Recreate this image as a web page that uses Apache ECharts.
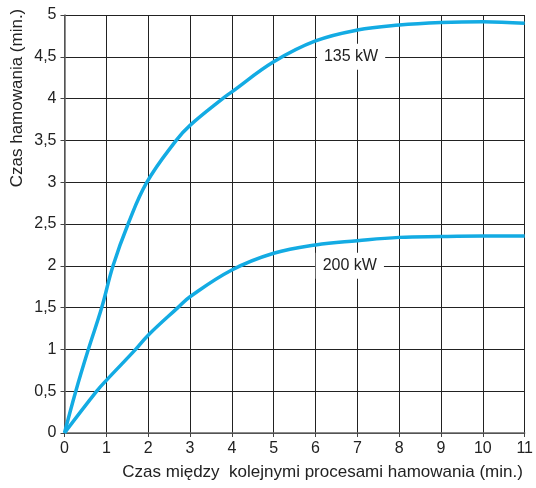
<!DOCTYPE html>
<html>
<head>
<meta charset="utf-8">
<script src="https://cdn.jsdelivr.net/npm/echarts@6/dist/echarts.min.js"></script>
<style>html,body{margin:0;padding:0;background:#fff}#c{width:536px;height:488px}</style>
</head>
<body>
<div id="c"></div>
<script>
var xTicks = [0,1,2,3,4,5,6,7,8,9,10,11];
var yTicks = ['0','0,5','1','1,5','2','2,5','3','3,5','4','4,5','5'];
var s135x = [0,0.27,0.57,0.89,1.16,1.52,1.97,2.67,3,3.78,4,5,6,7,8,9,10,11];
var s135y = [0,0.5,1,1.5,2,2.5,3,3.5,3.68,4,4.08,4.44,4.69,4.82,4.88,4.91,4.92,4.9];
var s200x = [0,0.77,1,1.7,2,2.71,3,4,5,6,7,8,9,10,11];
var s200y = [0,0.5,0.63,1,1.17,1.5,1.63,1.95,2.15,2.25,2.3,2.34,2.35,2.355,2.355];
var labels = ['135 kW','200 kW'];
var labelPos = [[6.85,4.5],[6.82,2]];
var xName = 'Czas między  kolejnymi procesami hamowania (min.)';
var yName = 'Czas hamowania (min.)';

function pairs(xs, ys){ return xs.map(function(x,i){return [x, ys[i]];}); }

var chart = echarts.init(document.getElementById('c'));
var font = 'Liberation Sans, Arial, sans-serif';
var lineStyle = {color:'#13abe3', width:3.5};
chart.setOption({
  animation:false,
  grid:{left:64.5, right:9.5, top:15, bottom:55},
  xAxis:{type:'value', min:0, max:11, interval:1,
    name:xName, nameLocation:'middle', nameGap:31,
    nameTextStyle:{fontSize:17, color:'#222', fontFamily:font, padding:[0,0,0,56]},
    axisLine:{show:true, lineStyle:{color:'#666', width:1.5}},
    axisTick:{show:true, length:4, lineStyle:{color:'#444'}},
    axisLabel:{fontSize:16, color:'#222', fontFamily:font, margin:8,
      formatter:function(v){return String(v);}},
    splitLine:{show:true, lineStyle:{color:'#222', width:1}}
  },
  yAxis:{type:'value', min:0, max:5, interval:0.5,
    axisLine:{show:true, lineStyle:{color:'#666', width:1.5}},
    axisTick:{show:true, length:4, lineStyle:{color:'#444'}},
    axisLabel:{fontSize:16, color:'#222', fontFamily:font, margin:8,
      formatter:function(v){return yTicks[Math.round(v*2)];}},
    splitLine:{show:true, lineStyle:{color:'#222', width:1}}
  },
  graphic:[{type:'text', x:17, y:98, rotation:Math.PI/2,
    style:{text:yName, font:'17px '+font, fill:'#222', align:'center', verticalAlign:'middle'}}],
  series:[
    {type:'line', data:pairs(s135x,s135y), smooth:0.4, symbol:'none', lineStyle:lineStyle},
    {type:'line', data:pairs(s200x,s200y), smooth:0.4, symbol:'none', lineStyle:lineStyle},
    {type:'scatter', symbolSize:0, z:5, itemStyle:{opacity:1},
      data:labelPos.map(function(p,i){return {value:p, name:labels[i]};}),
      label:{show:true, position:'inside', formatter:'{b}', fontSize:16, color:'#222', opacity:1, fontFamily:font,
        backgroundColor:'#fff', padding:[5,7,5,7]}}
  ]
});
</script>
</body>
</html>
